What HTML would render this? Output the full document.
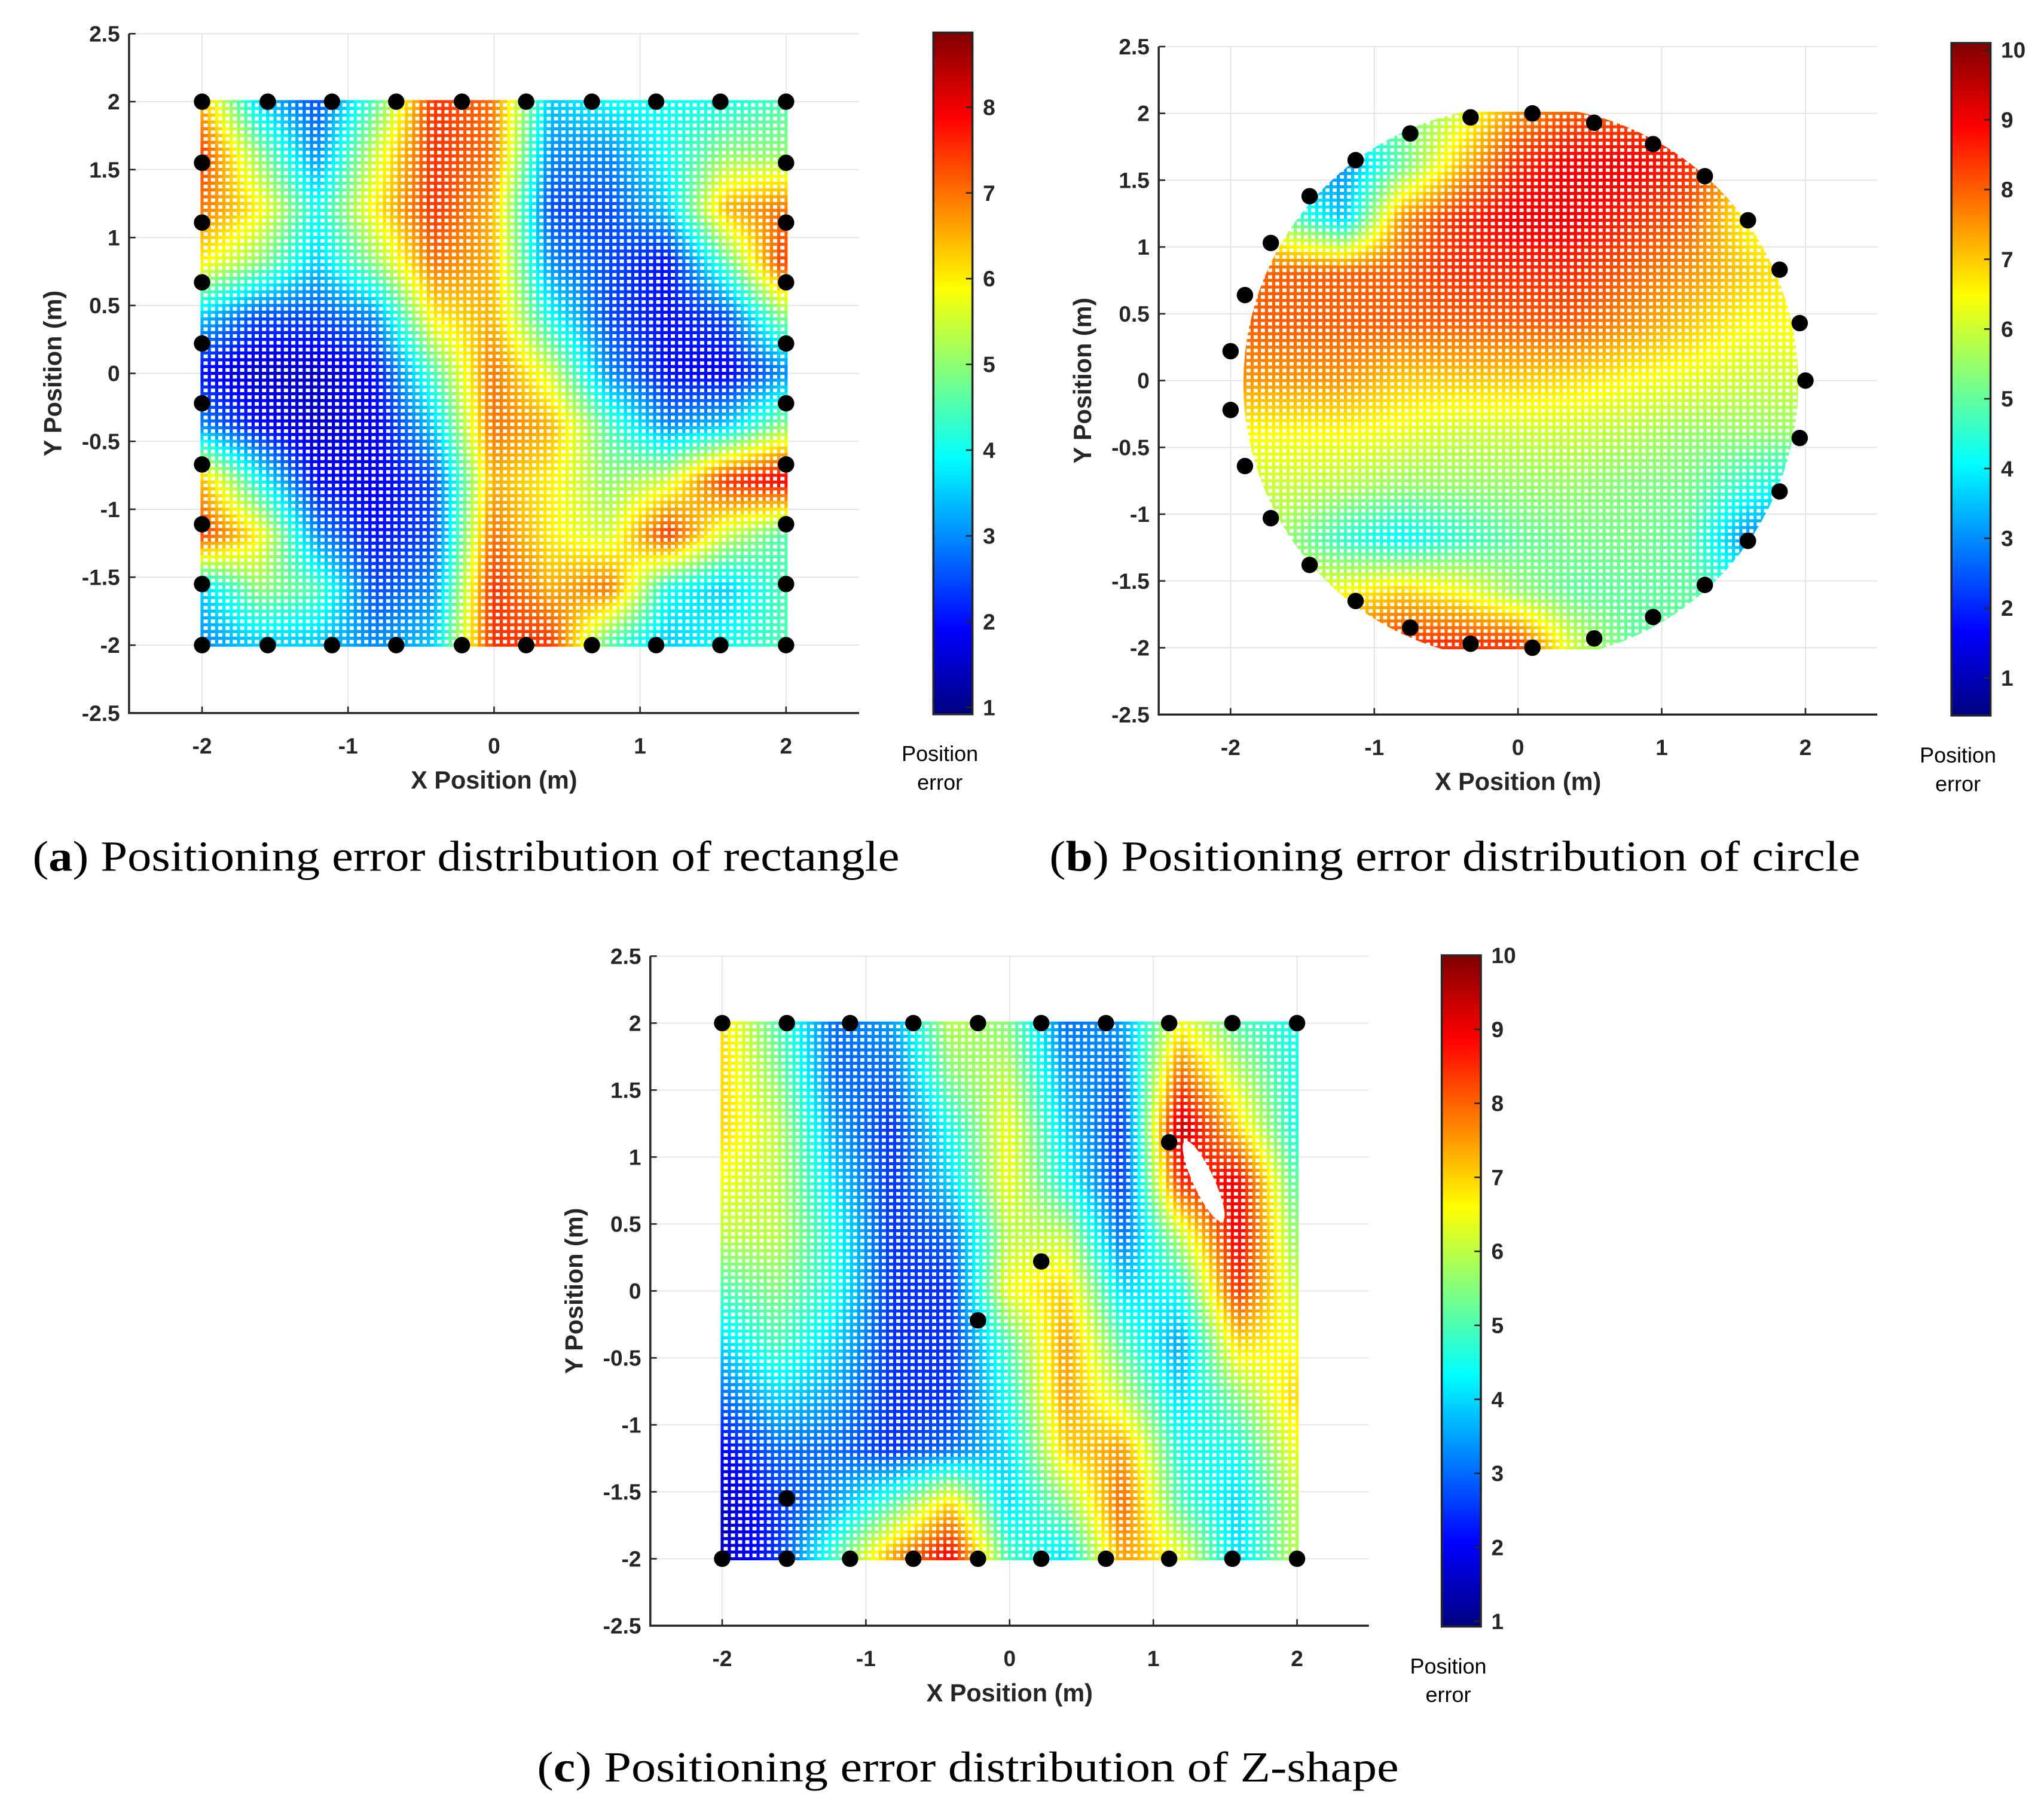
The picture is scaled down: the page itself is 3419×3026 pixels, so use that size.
<!DOCTYPE html>
<html><head><meta charset="utf-8"><style>
html,body{margin:0;padding:0;background:#fff;}
svg{display:block;}
.tk{font-family:"Liberation Sans",Arial,sans-serif;font-weight:bold;font-size:17px;fill:#262626;}
.al{font-family:"Liberation Sans",Arial,sans-serif;font-weight:bold;font-size:19px;fill:#262626;}
.cb{font-family:"Liberation Sans",Arial,sans-serif;font-size:16.5px;fill:#000;}
.cap{font-family:"Liberation Serif","Times New Roman",serif;font-size:33px;fill:#000;}
</style></head><body>
<svg id="fig" width="3419" height="3026" viewBox="0 0 1568 1388" preserveAspectRatio="none" xmlns="http://www.w3.org/2000/svg">
<text class="cap" x="25" y="668" textLength="665" lengthAdjust="spacingAndGlyphs">(<tspan font-weight="bold">a</tspan>) Positioning error distribution of rectangle</text>
<text class="cap" x="805" y="668" textLength="622" lengthAdjust="spacingAndGlyphs">(<tspan font-weight="bold">b</tspan>) Positioning error distribution of circle</text>
<text class="cap" x="412" y="1367" textLength="661" lengthAdjust="spacingAndGlyphs">(<tspan font-weight="bold">c</tspan>) Positioning error distribution of Z-shape</text>
</svg>
<script>
// grid x values -2..2 step 0.4 ; rows y = 2 .. -2
const gridX = [-2,-1.6,-1.2,-0.8,-0.4,0,0.4,0.8,1.2,1.6,2];
const gridY = [2,1.6,1.2,0.8,0.4,0,-0.4,-0.8,-1.2,-1.6,-2];
const errRect = [
[6.5,3.5,2.5,4.5,7.5,7,3.5,4,4,4,4.5],
[7.5,5,3,5.5,7.5,7,3,3,4,5,5],
[7,6,4,6,7.5,6.5,2.5,2.5,3.5,6.5,7],
[6,5,3.5,5,7,6.5,3,2.5,2,4.5,7.5],
[3.5,2.5,2.5,3,6,6.5,4,2.5,2,2.5,5],
[2,1.5,1.5,2,4.5,7,5.5,3,2,1.8,3],
[3,2,1.5,1.8,3.5,7,6.5,4.5,3,3.5,5],
[6.5,4,2,1.8,2.5,6.5,6,5,5.5,7.5,8],
[7.5,6,3,2,2.5,7,6,5.5,7.5,5.5,4.5],
[3.5,5,4.5,2.5,3,7.5,6.5,7,4,3.5,4.5],
[3,3.5,3.5,3,3.5,7.5,7.5,4.5,3.5,4,4.5]];
const errCircle = [
[5,5,5,5,6,7.5,8,8,8,8,8],
[3,3,3,5,7,8.5,9,9,8.5,7,6],
[7.5,5,3.5,7.5,8.5,9,9,8.5,8,6.5,6],
[8,8,8,8,8.5,8.5,8.5,8,7.5,7,6.5],
[8,8,8,8,8,8,8,7.5,7,6.5,6.5],
[7.5,7.5,7.5,7,7,7,6.8,6.5,6.3,6,6],
[6.5,6.5,6.5,6.3,6,6,6,5.8,5.5,5.5,5.5],
[6,6,5.8,5.5,5.5,5.5,5.5,5.3,5.2,4.5,4],
[5.5,5.5,4.5,4,4.5,5,5.2,5.2,5,3,2.5],
[6,6,6.5,7,6.5,5.5,5,5,5,4.5,4],
[8,8,8,8.5,8.5,8.5,6,5,5,5,5]];
const errZ = [
[7,5,3,3.5,6,5.5,3,3.5,6.5,5,4.5],
[7,5.5,3,3,5.5,6,3.5,3,8,6,4.5],
[7,6,3.5,2.5,4.5,6.5,4,2.5,9.5,7,4.5],
[6.5,6,4,2.5,4,6.5,4.5,2.5,8.5,9,5],
[6,6,4.5,2.5,3,6,6,3,6,9,5.5],
[5,5.5,4.5,2.5,2.5,6.5,7,4,4.5,8.5,6],
[4,5,4,2.5,2.5,5,7.5,5,3.5,7,6.5],
[3,4,3.5,2.5,2.5,4.5,7.5,6,4,5.5,7],
[2,3,3,2.5,3,4,7,7.5,4.5,4.5,6.5],
[1.5,2.5,3.5,5,7,4,5.5,8,5,4,6],
[1.5,2.5,5,7.5,9,5,4,7.5,6.5,4,6]];
const anchorsRectX = [-2,-1.55,-1.11,-0.67,-0.22,0.22,0.67,1.11,1.55,2,-2,-1.55,-1.11,-0.67,-0.22,0.22,0.67,1.11,1.55,2,-2,-2,-2,-2,-2,-2,-2,-2,2,2,2,2,2,2,2,2];
const anchorsRectY = [2,2,2,2,2,2,2,2,2,2,-2,-2,-2,-2,-2,-2,-2,-2,-2,-2,1.55,1.11,0.67,0.22,-0.22,-0.67,-1.11,-1.55,1.55,1.11,0.67,0.22,-0.22,-0.67,-1.11,-1.55];
const anchorsCircX = [0.1,0.53,0.94,1.3,1.6,1.82,1.96,2,1.96,1.82,1.6,1.3,0.94,0.53,0.1,-0.33,-0.75,-1.13,-1.45,-1.72,-1.9,-2,-2,-1.9,-1.72,-1.45,-1.13,-0.75,-0.33];
const anchorsCircY = [2,1.93,1.77,1.53,1.2,0.83,0.43,0,-0.43,-0.83,-1.2,-1.53,-1.77,-1.93,-2,-1.97,-1.85,-1.65,-1.38,-1.03,-0.64,-0.22,0.22,0.64,1.03,1.38,1.65,1.85,1.97];
const anchorsZX = [-2,-1.55,-1.11,-0.67,-0.22,0.22,0.67,1.11,1.55,2,-2,-1.55,-1.11,-0.67,-0.22,0.22,0.67,1.11,1.55,2,1.11,0.22,-0.22,-1.55];
const anchorsZY = [2,2,2,2,2,2,2,2,2,2,-2,-2,-2,-2,-2,-2,-2,-2,-2,-2,1.11,0.22,-0.22,-1.55];
const xTicks = [-2,-1,0,1,2];
const yTicks = [2.5,2,1.5,1,0.5,0,-0.5,-1,-1.5,-2,-2.5];
const cbTicksA = [1,2,3,4,5,6,7,8];
const cbTicksBC = [1,2,3,4,5,6,7,8,9,10];

const NS="http://www.w3.org/2000/svg";
const svg=document.getElementById('fig');
function mk(tag,attrs,parent){const e=document.createElementNS(NS,tag);for(const k in attrs)e.setAttribute(k,attrs[k]);(parent||svg).appendChild(e);return e;}
function jet(t){t=Math.max(0,Math.min(1,t));const c=v=>Math.round(255*Math.max(0,Math.min(1,v)));
 return `rgb(${c(1.5-Math.abs(4*t-3))},${c(1.5-Math.abs(4*t-2))},${c(1.5-Math.abs(4*t-1))})`;}
function sample(grid,x,y){
 const fx=(x+2)/0.4, fy=(2-y)/0.4;
 const i0=Math.max(0,Math.min(9,Math.floor(fx))), j0=Math.max(0,Math.min(9,Math.floor(fy)));
 const tx=fx-i0, ty=fy-j0;
 const a=grid[j0][i0],b=grid[j0][i0+1],c=grid[j0+1][i0],d=grid[j0+1][i0+1];
 return (a*(1-tx)+b*tx)*(1-ty)+(c*(1-tx)+d*tx)*ty;}

function plot(cfg,id){
 const sx=v=>cfg.x0+(v+2)*(cfg.x2-cfg.x0)/4;
 const sy=v=>cfg.y0+(2-v)*(cfg.y2-cfg.y0)/4;
 const g=mk('g',{});
 
 
 const L=sx(-2.5),R=sx(2.5),T=sy(2.5),B=sy(-2.5);
 for(const v of xTicks){const l=mk('line',{x1:sx(v),x2:sx(v),y1:T,y2:B,stroke:'#e3e3e3','stroke-width':0.8},g);
  }
 for(const v of yTicks){const l=mk('line',{x1:L,x2:R,y1:sy(v),y2:sy(v),stroke:'#e3e3e3','stroke-width':0.8},g);
  }
 const hm=mk('g',{},g);
 
 
 if(cfg.circle){const cp=mk('clipPath',{id:'clip'+id},svg);mk('circle',{cx:sx(0.02),cy:sy(-0.02),r:(sx(1.93)-sx(0))},cp);hm.setAttribute('clip-path',`url(#clip${id})`);}
 const N=80, st=4/N, cw=(cfg.x2-cfg.x0)/N, ch=(cfg.y2-cfg.y0)/N;
 for(let j=0;j<N;j++)for(let i=0;i<N;i++){
  const x=-2+(i+0.5)*st,y=2-(j+0.5)*st;const v=sample(cfg.grid,x,y);
  const r=mk('rect',{x:sx(x)-cw*0.5,y:sy(y)-ch*0.5,width:cw,height:ch,fill:'#fff',stroke:jet((v-cfg.cmin)/(cfg.cmax-cfg.cmin)),'stroke-width':cw*0.42},hm);
  
  
 }
 if(cfg.hole){const h=mk('ellipse',{cx:sx(1.35),cy:sy(0.82),rx:8,ry:34,fill:'#fff',transform:`rotate(-25 ${sx(1.35)} ${sy(0.82)})`},g);
  }
 for(let k=0;k<cfg.ax.length;k++){const c=mk('circle',{cx:sx(cfg.ax[k]),cy:sy(cfg.ay[k]),r:6.3,fill:'#000'},g);
  }
 const ax=mk('path',{d:`M${L},${T}V${B}H${R}`,stroke:'#262626','stroke-width':1.6,fill:'none'},g);
 
 for(const v of xTicks){mk('line',{x1:sx(v),x2:sx(v),y1:B,y2:B-5,stroke:'#262626','stroke-width':1.2},g);
  const t=mk('text',{x:sx(v),y:B+31,'text-anchor':'middle',class:'tk'},g);t.textContent=v;
  }
 for(const v of yTicks){mk('line',{x1:L,x2:L+5,y1:sy(v),y2:sy(v),stroke:'#262626','stroke-width':1.2},g);
  const t=mk('text',{x:L-7,y:sy(v)+6,'text-anchor':'end',class:'tk'},g);t.textContent=v;
  }
 const xl=mk('text',{x:(L+R)/2,y:B+58,'text-anchor':'middle',class:'al'},g);xl.textContent='X Position (m)';
 
 const yx=L-52,yy=(T+B)/2;
 const yl=mk('text',{x:yx,y:yy,'text-anchor':'middle',class:'al',transform:`rotate(-90 ${yx} ${yy})`},g);yl.textContent='Y Position (m)';
 
 const gid='grad'+id;const gr=mk('linearGradient',{id:gid,x1:0,y1:1,x2:0,y2:0},svg);
 for(let k=0;k<=8;k++)mk('stop',{offset:k/8,'stop-color':jet(k/8)},gr);
 const cbv=v=>cfg.cbB-(v-cfg.cmin)*(cfg.cbB-cfg.cbT)/(cfg.cmax-cfg.cmin);
 const cb=mk('rect',{x:cfg.cbX,y:cfg.cbT,width:30,height:cfg.cbB-cfg.cbT,fill:`url(#${gid})`,stroke:'#262626','stroke-width':1.6},g);
 
 for(const v of cfg.cbt){mk('line',{x1:cfg.cbX+30,x2:cfg.cbX+25,y1:cbv(v),y2:cbv(v),stroke:'#262626','stroke-width':1.2},g);
  const t=mk('text',{x:cfg.cbX+38,y:cbv(v)+6,class:'tk'},g);t.textContent=v;
  }
 const c1=mk('text',{x:cfg.cbX+5,y:cfg.cbB+36,'text-anchor':'middle',class:'cb'},g);c1.textContent='Position';
 
 const c2=mk('text',{x:cfg.cbX+5,y:cfg.cbB+58,'text-anchor':'middle',class:'cb'},g);c2.textContent='error';
 
}
plot({x0:155,x2:603,y0:78,y2:495,grid:errRect,cmin:0.92,cmax:8.87,cbX:716,cbT:25,cbB:548,cbt:cbTicksA,ax:anchorsRectX,ay:anchorsRectY},'a');
plot({x0:944,x2:1385,y0:87,y2:497,grid:errCircle,cmin:0.46,cmax:10.1,cbX:1497,cbT:33,cbB:549,cbt:cbTicksBC,ax:anchorsCircX,ay:anchorsCircY,circle:true},'b');
plot({x0:554,x2:995,y0:785,y2:1196,grid:errZ,cmin:0.93,cmax:10,cbX:1106,cbT:733,cbB:1248,cbt:cbTicksBC,ax:anchorsZX,ay:anchorsZY,hole:true},'c');
</script>
</body></html>
